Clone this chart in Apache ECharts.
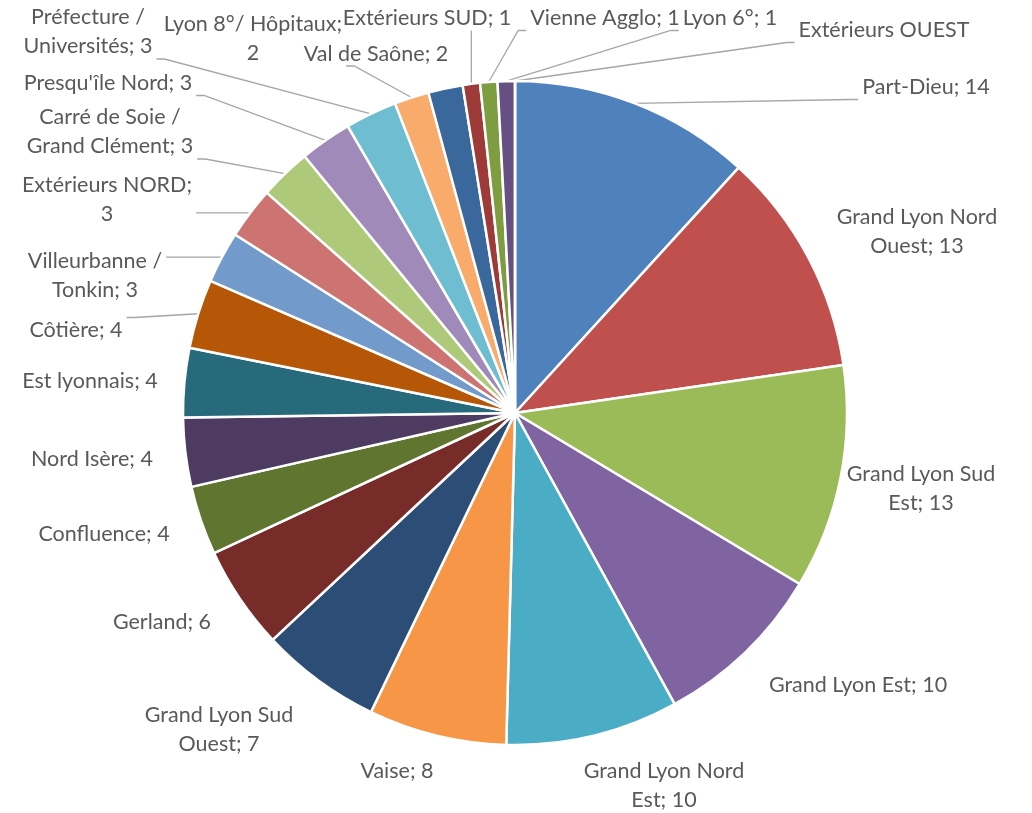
<!DOCTYPE html>
<html>
<head>
<meta charset="utf-8">
<script src="https://cdn.jsdelivr.net/npm/echarts@6/dist/echarts.min.js"></script>
<style>
html,body{margin:0;padding:0;background:#fff;}
#chart{width:1032px;height:813px;}
</style>
</head>
<body>
<div id="chart"></div>
<script>
const categories = [
  "Part-Dieu", "Grand Lyon Nord Ouest", "Grand Lyon Sud Est", "Grand Lyon Est",
  "Grand Lyon Nord Est", "Vaise", "Grand Lyon Sud Ouest", "Gerland", "Confluence",
  "Nord Isère", "Est lyonnais", "Côtière", "Villeurbanne / Tonkin", "Extérieurs NORD",
  "Carré de Soie / Grand Clément", "Presqu'île Nord", "Préfecture / Universités",
  "Lyon 8°/ Hôpitaux", "Val de Saône", "Extérieurs SUD", "Vienne Agglo", "Lyon 6°",
  "Extérieurs OUEST"
];
const values = [14, 13, 13, 10, 10, 8, 7, 6, 4, 4, 4, 4, 3, 3, 3, 3, 3, 2, 2, 1, 1, 1, 0];
const colors = [
  "#4F81BD", "#C0504D", "#9BBB59", "#8064A2", "#4BACC6", "#F79646",
  "#2C4D75", "#772C2A", "#5F7530", "#4D3B62", "#276A7C", "#B65708",
  "#729ACA", "#CD7371", "#AFC97A", "#9F8AB9", "#6FBDD1", "#F9AB6B",
  "#3A679C", "#9E3B38", "#7E9D40", "#664F83", "#358EA6"
];
// where the label text wraps
const wraps = {
  "Grand Lyon Nord Ouest": "Grand Lyon Nord\nOuest",
  "Grand Lyon Sud Est": "Grand Lyon Sud\nEst",
  "Grand Lyon Nord Est": "Grand Lyon Nord\nEst",
  "Grand Lyon Sud Ouest": "Grand Lyon Sud\nOuest",
  "Villeurbanne / Tonkin": "Villeurbanne /\nTonkin",
  "Carré de Soie / Grand Clément": "Carré de Soie /\nGrand Clément",
  "Préfecture / Universités": "Préfecture /\nUniversités"
};
const wrapValue = { "Extérieurs NORD": true, "Lyon 8°/ Hôpitaux": true };

// label placement (centre of each data label, in px)
const labelPos = [
  [926, 87], [917, 232], [921, 489], [858, 685], [664, 786], [397, 771],
  [219, 730], [162, 622], [104, 534], [92, 459], [90, 381], [76, 330],
  [95, 276], [107, 200], [110, 132], [108, 83], [88, 32], [253, 39],
  [376, 54], [427, 18], [605, 18], [730, 18], [884, 30]
];

const chart = echarts.init(document.getElementById('chart'), null, {renderer: 'canvas'});
chart.setOption({
  animation: false,
  color: colors,
  series: [{
    type: 'pie',
    center: [515, 413],
    radius: 332,
    startAngle: 90,
    clockwise: true,
    avoidLabelOverlap: false,
    itemStyle: { borderColor: '#fff', borderWidth: 2.5 },
    label: {
      show: true,
      position: 'outside',
      fontFamily: 'Lato',
      fontSize: 21.5,
      color: '#595959',
      lineHeight: 29,
      align: 'center',
      overflow: 'none',
      formatter: function (p) {
        const n = wraps[p.name] || p.name;
        if (!p.value) return n;
        return n + ';' + (wrapValue[p.name] ? '\n' : ' ') + p.value;
      }
    },
    labelLine: {
      show: true,
      length: 15,
      length2: 20,
      lineStyle: { color: '#A6A6A6', width: 1.3 }
    },
    labelLayout: function (params) {
      const pos = labelPos[params.dataIndex];
      const w = params.labelRect.width, h = params.labelRect.height;
      const pts = params.labelLinePoints;
      const res = { x: pos[0], y: pos[1], align: 'center', verticalAlign: 'middle' };
      if (!pts) return res;
      const s = pts[0];
      const pad = 4;
      const x0 = pos[0] - w / 2 - pad, x1 = pos[0] + w / 2 + pad;
      const y0 = pos[1] - h / 2 + 2, y1 = pos[1] + h / 2 - 2;
      const ax = Math.min(Math.max(s[0], x0), x1);
      const ay = Math.min(Math.max(s[1], y0), y1);
      const d = Math.hypot(ax - s[0], ay - s[1]);
      if (d < 45) {
        res.labelLinePoints = [s, s, s];
      } else if (ax === x0 || ax === x1) {
        const stub = ax === x0 ? -8 : 8;
        res.labelLinePoints = [s, [ax + stub, ay], [ax, ay]];
      } else {
        res.labelLinePoints = [s, [ax, ay], [ax, ay]];
      }
      return res;
    },
    emphasis: { disabled: true },
    data: categories.map((c, i) => ({ name: c, value: values[i] }))
  }]
});
</script>
</body>
</html>
